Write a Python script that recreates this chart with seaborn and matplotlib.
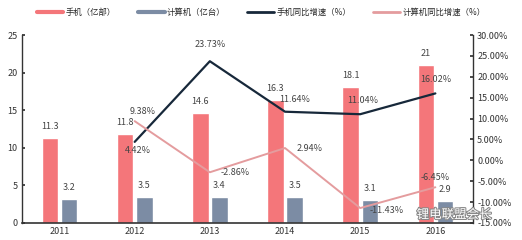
import numpy as np
import pandas as pd
import matplotlib.pyplot as plt
import matplotlib.patheffects as pe
from matplotlib.lines import Line2D
from matplotlib.ticker import FuncFormatter
import seaborn as sns

# data
years = ["2011", "2012", "2013", "2014", "2015", "2016"]
phone = [11.3, 11.8, 14.6, 16.3, 18.1, 21]
computer = [3.2, 3.5, 3.4, 3.5, 3.1, 2.9]
phone_growth = [np.nan, 4.42, 23.73, 11.64, 11.04, 16.02]
computer_growth = [np.nan, 9.38, -2.86, 2.94, -11.43, -6.45]

series_names = ["手机（亿部）", "计算机（亿台）", "手机同比增速（%）", "计算机同比增速（%）"]
colors = ["#F4767A", "#7C8CA4", "#17283A", "#E49C9E"]

sns.set_theme(style="ticks")
plt.rcParams["font.family"] = ["Noto Sans CJK SC", "DejaVu Sans"]
plt.rcParams["axes.unicode_minus"] = False

df = pd.DataFrame({
    "year": years * 2,
    "value": phone + computer,
    "series": [series_names[0]] * len(years) + [series_names[1]] * len(years),
})

fig = plt.figure(figsize=(5.22, 2.40), dpi=100)
ax = fig.add_axes([0.042, 0.071, 0.864, 0.783])

sns.barplot(data=df, x="year", y="value", hue="series", palette=colors[:2],
            width=0.51, gap=0.14, ax=ax, legend=False, saturation=1)
for cont in ax.containers:
    ax.bar_label(cont, fmt="%g", padding=5, fontsize=6.5, color="#444444")

ax.set_ylim(0, 25)
ax.set_yticks(range(0, 26, 5))
ax.set_xlabel("")
ax.set_ylabel("")
ax.tick_params(axis="both", labelsize=6.5, colors="#333333", length=2, direction="in", pad=3)
ax.tick_params(axis="x", length=0)
for s in ["top", "right"]:
    ax.spines[s].set_visible(False)
ax.spines["left"].set_color("#333333")
ax.spines["bottom"].set_color("#333333")
ax.spines["left"].set_linewidth(1.0)
ax.spines["bottom"].set_linewidth(1.2)

ax2 = ax.twinx()
xpos = np.arange(len(years))
sns.lineplot(x=xpos, y=phone_growth, color=colors[2], lw=1.6, ax=ax2)
sns.lineplot(x=xpos, y=computer_growth, color=colors[3], lw=1.4, ax=ax2)
ax2.set_ylim(-15, 30)
ax2.set_yticks(range(-15, 31, 5))
ax2.yaxis.set_major_formatter(FuncFormatter(lambda v, p: f"{v:.2f}%"))
ax2.tick_params(axis="y", labelsize=6.5, colors="#333333", length=2, direction="in", pad=3)
for s in ["top", "left", "bottom"]:
    ax2.spines[s].set_visible(False)
ax2.spines["right"].set_color("#333333")
ax2.spines["right"].set_linewidth(1.0)
ax2.set_xlim(-0.5, 5.5)

# label offsets in points (dx, dy)
phone_off = [None, (2, -6), (0, 12), (7, 9), (2, 10), (0, 10)]
comp_off = [None, (6, 7), (18, 0), (18, 0), (19, -2), (0, 7)]
for i in range(len(years)):
    if phone_off[i] is not None:
        ax2.annotate(f"{phone_growth[i]:.2f}%", (xpos[i], phone_growth[i]), xytext=phone_off[i],
                     textcoords="offset points", ha="center", va="center", fontsize=6.5, color="#444444")
    if comp_off[i] is not None:
        ax2.annotate(f"{computer_growth[i]:.2f}%", (xpos[i], computer_growth[i]), xytext=comp_off[i],
                     textcoords="offset points", ha="center", va="center", fontsize=6.5, color="#444444")

handles = [Line2D([], [], color=colors[0], lw=3),
           Line2D([], [], color=colors[1], lw=3),
           Line2D([], [], color=colors[2], lw=2),
           Line2D([], [], color=colors[3], lw=2)]
fig.legend(handles, series_names, loc="upper center", bbox_to_anchor=(0.5, 1.0), ncol=4,
           frameon=False, fontsize=6, handlelength=3.2, columnspacing=2.6, handletextpad=0.3)

fig.text(0.87, 0.105, "锂电联盟会长", ha="center", va="center", fontsize=9, color="white",
         path_effects=[pe.withStroke(linewidth=1.5, foreground="#888888")])

fig.savefig("out.png", dpi=100)
